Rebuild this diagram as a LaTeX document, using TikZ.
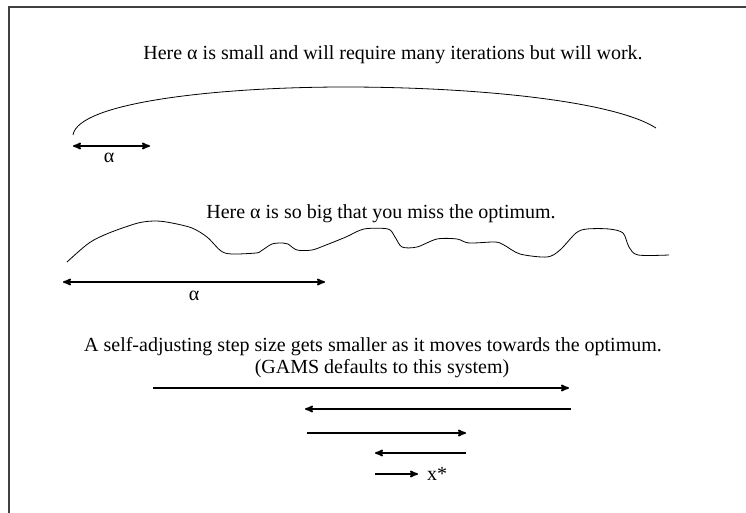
\documentclass[tikz,border=0pt]{standalone}
\usepackage{fontspec}
\setmainfont{Liberation Serif}
\usetikzlibrary{arrows}

\begin{document}
\begin{tikzpicture}[x=1pt,y=-1pt,>=stealth']

  \tikzstyle{caption}=[font=\fontsize{20}{24}\selectfont,inner sep=0pt,anchor=base]
  \tikzstyle{steparrow}=[line width=1.7pt]
  \tikzstyle{surface}=[line width=0.8pt]

  \useasboundingbox (0,0) rectangle (746,513);
  \draw[line width=1.5pt,black!75] (9,513) -- (9,7) -- (746,7);

  % small step
  \node[caption] (small) at (393,60) {Here α is small and will require many iterations but will work.};
  \draw[surface] (73,135) .. controls (78,102) and (220,87) .. (345,87)
    .. controls (470,87) and (612,100) .. (656,128);
  \coordinate (s1) at (73,146);
  \coordinate (s2) at (150,146);
  \draw[steparrow,<->] (s1) -- (s2);
  \node[caption] (asmall) at (109,163) {α};

  % big step
  \node[caption] (big) at (381,218) {Here α is so big that you miss the optimum.};
  \draw[surface] plot[smooth,tension=0.5] coordinates {(67,262) (89,243) (109,233) (138,223)
    (156,221) (172,223) (192,228) (207,237) (221,251) (232,254) (256,253) (261,251)
    (272,244) (283,243) (288,244) (297,250) (312,250) (326,245) (346,237) (364,229)
    (388,229) (395,237) (402,247) (417,247) (437,239) (457,239) (469,243) (495,242)
    (504,245) (520,254) (547,257) (560,250) (576,233) (587,229) (609,229) (623,233)
    (629,247) (638,255) (669,255)};
  \coordinate (b1) at (63,282);
  \coordinate (b2) at (325,282);
  \draw[steparrow,<->] (b1) -- (b2);
  \node[caption] (abig) at (194,300) {α};

  % adjusting step
  \node[caption] (adj) at (373,351) {A self-adjusting step size gets smaller as it moves towards the optimum.};
  \node[caption] (gams) at (382,373) {(GAMS defaults to this system)};
  \coordinate (r1) at (153,388);
  \coordinate (r2) at (569,388);
  \coordinate (r3) at (571,409);
  \coordinate (r4) at (305,409);
  \coordinate (r5) at (307,433);
  \coordinate (r6) at (466,433);
  \coordinate (r7) at (466,453);
  \coordinate (r8) at (375,453);
  \coordinate (r9) at (375,474);
  \coordinate (r10) at (418,474);
  \draw[steparrow,->] (r1) -- (r2);
  \draw[steparrow,->] (r3) -- (r4);
  \draw[steparrow,->] (r5) -- (r6);
  \draw[steparrow,->] (r7) -- (r8);
  \draw[steparrow,->] (r9) -- (r10);
  \node[caption,anchor=base west] (xopt) at (427,480) {x*};

\end{tikzpicture}
\end{document}
